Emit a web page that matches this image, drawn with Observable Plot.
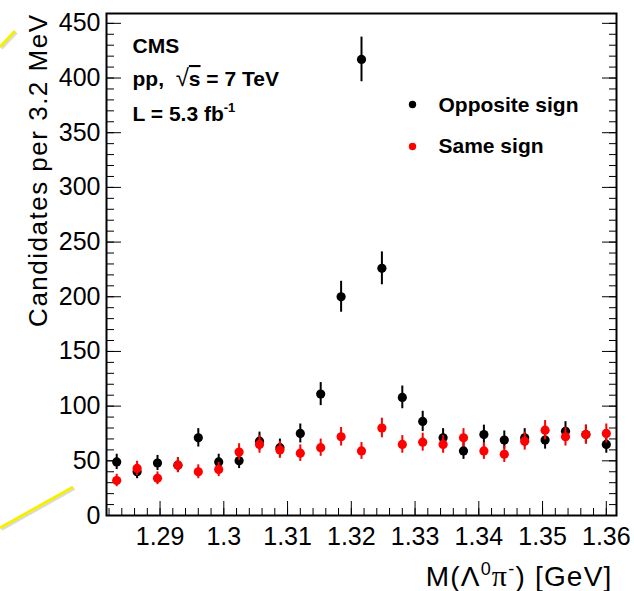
<!DOCTYPE html>
<html><head><meta charset="utf-8">
<script src="https://cdn.jsdelivr.net/npm/d3@7"></script>
<script src="https://cdn.jsdelivr.net/npm/@observablehq/plot@0.6"></script>
<style>
html,body{margin:0;padding:0;background:#fff;}
#wrap{position:relative;width:634px;height:591px;overflow:hidden;}
#deco{position:absolute;left:0;top:0;pointer-events:none;}
</style></head><body><div id="wrap"></div>
<script>
// Bin centres (GeV), 3.2 MeV bins
const massGeV = [1.2832, 1.2864, 1.2896, 1.2928, 1.2960, 1.2992, 1.3024, 1.3056, 1.3088, 1.3120,
                 1.3152, 1.3184, 1.3216, 1.3248, 1.3280, 1.3312, 1.3344, 1.3376, 1.3408, 1.3440,
                 1.3472, 1.3504, 1.3536, 1.3568, 1.3600];
const oppositeSign = [49, 40, 48, 46, 71, 49, 50, 68, 62, 75, 111, 200, 417, 226, 108, 86, 71, 59, 74, 69, 71, 69, 77, 74, 65];
const sameSign     = [32, 43, 34, 46, 40, 42, 58, 65, 60, 57, 62, 72, 59, 80, 65, 67, 65, 71, 59, 56, 68, 78, 72, 74, 75];
const seriesNames = ["Opposite sign", "Same sign"];
const seriesColors = ["#000000", "#ff0000"];
const xTicksMajor = [1.29, 1.30, 1.31, 1.32, 1.33, 1.34, 1.35, 1.36];
const xTickLabels = ["1.29", "1.3", "1.31", "1.32", "1.33", "1.34", "1.35", "1.36"];
const yTicksMajor = [0, 50, 100, 150, 200, 250, 300, 350, 400, 450];
const xMinor = d3.range(1.282, 1.3617, 0.002);
const yMinor = d3.range(0, 460, 10);
const infoLines = ["CMS", "pp,  √s = 7 TeV", "L = 5.3 fb-1"];
const yTitle = "Candidates per 3.2 MeV";
const xTitle = "M(Λ0π-) [GeV]";

const rows = seriesNames.map((s, k) => massGeV.map((m, i) => {
  const n = (k === 0 ? oppositeSign : sameSign)[i];
  return {m, n, lo: n - Math.sqrt(n), hi: n + Math.sqrt(n), s};
}));

const font = "Liberation Sans, Arial, Helvetica, sans-serif";
const marks = [
  Plot.axisX(xMinor, {anchor: "bottom", tickSize: -7, tickFormat: () => "", label: null}),
  Plot.axisX(xTicksMajor, {anchor: "bottom", tickSize: -14, tickFormat: () => "", label: null}),
  Plot.axisX(xTicksMajor, {anchor: "bottom", tickSize: 0, tickPadding: 12, fontSize: 25,
    tickFormat: d => xTickLabels[xTicksMajor.indexOf(d)], label: null}),
  Plot.axisY(yMinor, {anchor: "left", tickSize: -8, tickFormat: () => "", label: null}),
  Plot.axisY(yTicksMajor, {anchor: "left", tickSize: -15, tickFormat: () => "", label: null}),
  Plot.axisY(yMinor, {anchor: "right", tickSize: -8, tickFormat: () => "", label: null}),
  Plot.axisY(yTicksMajor, {anchor: "right", tickSize: -15, tickFormat: () => "", label: null}),
  Plot.axisY(yTicksMajor, {anchor: "left", tickSize: 0, tickPadding: 6, fontSize: 25, label: null}),
];
rows.forEach((data, k) => {
  marks.push(Plot.ruleX(data, {x: "m", y1: "lo", y2: "hi", stroke: seriesColors[k], strokeWidth: 2}));
  marks.push(Plot.dot(data, {x: "m", y: "n", r: 4.6, fill: seriesColors[k], stroke: "none"}));
});
marks.push(Plot.frame({stroke: "black", strokeWidth: 2}));
// info text
[39.5, 72.5, 107.5].forEach((dy, i) => marks.push(Plot.text([infoLines[i]], {
  frameAnchor: "top-left", dx: 26, dy, textAnchor: "start", lineAnchor: "bottom",
  fontSize: 21, fontWeight: "bold"})));
// legend
[[91, 98], [133, 139]].forEach(([dyDot, dyText], k) => {
  marks.push(Plot.dot([seriesNames[k]], {frameAnchor: "top-left", dx: 306, dy: dyDot, r: 3.7, fill: seriesColors[k], stroke: "none"}));
  marks.push(Plot.text([seriesNames[k]], {frameAnchor: "top-left", dx: 332, dy: dyText, textAnchor: "start",
    lineAnchor: "bottom", fontSize: 21, fontWeight: "bold"}));
});
// axis titles
marks.push(Plot.text([yTitle], {frameAnchor: "top-left", rotate: -90, textAnchor: "end", lineAnchor: "bottom",
  dx: -60, dy: 0, fontSize: 26}));
marks.push(Plot.text([xTitle], {frameAnchor: "bottom-right", textAnchor: "end", lineAnchor: "bottom",
  dx: -4, dy: 70, fontSize: 28}));

const chart = Plot.plot({
  width: 634, height: 591,
  marginLeft: 106, marginRight: 18, marginTop: 13, marginBottom: 76,
  x: {domain: [1.2816, 1.3616], axis: null},
  y: {domain: [0, 459], axis: null},
  style: {fontFamily: font, background: "white", color: "black"},
  marks
});
document.getElementById("wrap").appendChild(chart);

function rich(plain, html, spacing) {
  for (const t of chart.querySelectorAll("text")) if (t.textContent === plain) {
    if (html) t.innerHTML = html;
    if (spacing) t.setAttribute("letter-spacing", spacing);
  }
}
rich(infoLines[2], 'L = 5.3 fb<tspan dy="-9" font-size="13">-1</tspan>');
rich(infoLines[1], 'pp,  <tspan font-weight="normal" font-size="24">√</tspan><tspan text-decoration="overline">s</tspan> = 7 TeV');
rich(yTitle, null, 1.5);
rich(xTitle, 'M(Λ<tspan dy="-11" font-size="18">0</tspan><tspan dy="11" font-family="Liberation Serif, serif" font-size="30">π</tspan><tspan dy="-11" font-size="18">-</tspan><tspan dy="11">) [GeV]</tspan>', 1.2);

// decorative yellow annotation strokes present in the reference screenshot
const ns = "http://www.w3.org/2000/svg";
const deco = document.createElementNS(ns, "svg");
deco.setAttribute("id", "deco"); deco.setAttribute("width", 634); deco.setAttribute("height", 591);
[[0, 47, 15, 31], [0, 528, 73, 487]].forEach(([x1, y1, x2, y2]) => {
  [["#999", 0.35, 1.5], ["#f6f000", 1, 0]].forEach(([c, o, off]) => {
    const l = document.createElementNS(ns, "line");
    l.setAttribute("x1", x1 + off); l.setAttribute("y1", y1 + off);
    l.setAttribute("x2", x2 + off); l.setAttribute("y2", y2 + off);
    l.setAttribute("stroke", c); l.setAttribute("stroke-opacity", o); l.setAttribute("stroke-width", 3);
    deco.appendChild(l);
  });
});
document.getElementById("wrap").appendChild(deco);
</script></body></html>
